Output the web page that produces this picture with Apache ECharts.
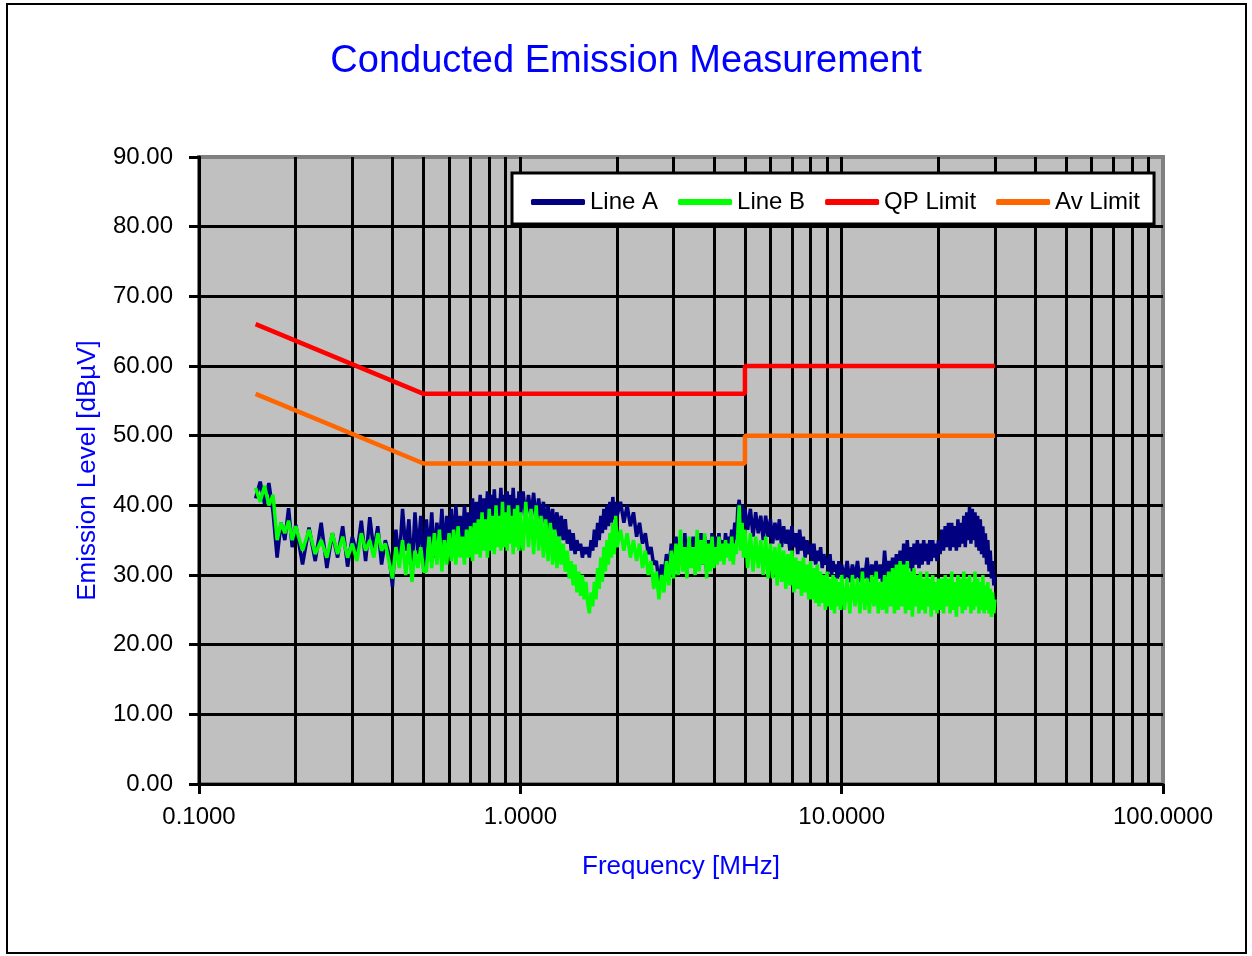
<!DOCTYPE html>
<html>
<head>
<meta charset="utf-8">
<script src="https://cdn.jsdelivr.net/npm/echarts@6/dist/echarts.min.js"></script>
<style>
html,body{margin:0;padding:0;background:#fff;}
#chart{width:1252px;height:956px;}
</style>
</head>
<body>
<div id="chart"></div>
<script>
// ---- data ----
const freqMHz = [
0.150,0.155,0.160,0.165,0.170,0.175,0.180,0.185,0.190,0.195,0.200,
0.21,0.22,0.23,0.24,0.25,0.26,0.27,0.28,0.29,0.30,0.31,0.32,0.33,0.34,0.35,0.36,0.37,0.38,0.39,0.40,0.41,0.42,0.43,0.44,0.45,0.46,0.47,0.48,0.49,0.50,
0.51,0.52,0.53,0.54,0.55,0.56,0.57,0.58,0.59,0.60,0.61,0.62,0.63,0.64,0.65,0.66,0.67,0.68,0.69,0.70,
0.71,0.72,0.73,0.74,0.75,0.76,0.77,0.78,0.79,0.80,0.81,0.82,0.83,0.84,0.85,0.86,0.87,0.88,0.89,0.90,
0.91,0.92,0.93,0.94,0.95,0.96,0.97,0.98,0.99,1.00,
1.02,1.04,1.06,1.08,1.10,1.12,1.14,1.16,1.18,1.20,1.22,1.24,1.26,1.28,1.30,1.32,1.34,1.36,1.38,1.40,
1.42,1.44,1.46,1.48,1.50,1.52,1.54,1.56,1.58,1.60,1.62,1.64,1.66,1.68,1.70,1.72,1.74,1.76,1.78,1.80,
1.82,1.84,1.86,1.88,1.90,1.92,1.94,1.96,1.98,2.00,
2.05,2.10,2.15,2.20,2.25,2.30,2.35,2.40,2.45,2.50,2.55,2.60,2.65,2.70,2.75,2.80,2.85,2.90,2.95,3.00,
3.05,3.10,3.15,3.20,3.25,3.30,3.35,3.40,3.45,3.50,3.55,3.60,3.65,3.70,3.75,3.80,3.85,3.90,3.95,4.00,
4.05,4.10,4.15,4.20,4.25,4.30,4.35,4.40,4.45,4.50,4.55,4.60,4.65,4.70,4.75,4.80,4.85,4.90,4.95,5.00,
5.1,5.2,5.3,5.4,5.5,5.6,5.7,5.8,5.9,6.0,6.1,6.2,6.3,6.4,6.5,6.6,6.7,6.8,6.9,7.0,
7.1,7.2,7.3,7.4,7.5,7.6,7.7,7.8,7.9,8.0,8.1,8.2,8.3,8.4,8.5,8.6,8.7,8.8,8.9,9.0,
9.1,9.2,9.3,9.4,9.5,9.6,9.7,9.8,9.9,10.0,
10.2,10.4,10.6,10.8,11.0,11.2,11.4,11.6,11.8,12.0,12.2,12.4,12.6,12.8,13.0,13.2,13.4,13.6,13.8,14.0,
14.2,14.4,14.6,14.8,15.0,15.2,15.4,15.6,15.8,16.0,16.2,16.4,16.6,16.8,17.0,17.2,17.4,17.6,17.8,18.0,
18.2,18.4,18.6,18.8,19.0,19.2,19.4,19.6,19.8,20.0,
20.25,20.50,20.75,21.00,21.25,21.50,21.75,22.00,22.25,22.50,22.75,23.00,23.25,23.50,23.75,24.00,24.25,24.50,24.75,25.00,
25.25,25.50,25.75,26.00,26.25,26.50,26.75,27.00,27.25,27.50,27.75,28.00,28.25,28.50,28.75,29.00,29.25,29.50,29.75,30.00
];
const lineA = [
41.0,43.4,40.2,43.2,39.0,32.5,37.5,35.0,39.6,34.0,37.2,
31.5,36.8,32.0,37.5,31.0,36.0,32.5,37.0,31.2,35.5,33.0,37.8,32.0,38.3,33.5,37.0,31.5,35.0,33.0,28.3,36.5,32.0,39.5,33.5,38.0,30.5,39.0,33.0,38.5,31.0,
38.0,33.0,39.0,32.5,37.5,34.0,39.5,33.0,38.5,34.5,39.5,33.5,40.0,35.0,38.5,34.0,40.0,35.5,39.0,36.0,
41.0,35.5,40.5,36.5,41.5,36.0,41.0,37.0,42.0,37.5,41.5,38.0,42.3,37.5,41.0,38.0,42.5,37.5,41.5,38.5,
42.0,37.5,41.5,38.0,42.5,38.5,41.0,37.5,42.0,38.5,
42.0,38.0,41.5,38.5,41.8,37.5,41.0,38.0,40.5,37.0,40.0,36.5,39.5,36.0,39.0,35.5,38.5,35.0,38.0,34.5,
36.5,33.5,36.0,33.0,35.0,33.5,34.5,32.5,34.0,33.0,34.0,32.5,35.0,33.5,36.5,34.0,37.5,35.0,38.5,36.0,
39.5,36.5,40.0,37.0,40.5,37.5,41.2,38.0,40.5,38.5,
40.5,37.5,40.0,37.0,39.0,35.5,37.5,34.5,36.0,33.0,34.0,31.5,32.0,29.0,31.5,30.0,33.0,30.5,34.5,31.0,
35.5,31.5,34.5,32.0,36.0,31.0,35.0,32.5,35.5,31.0,35.0,32.0,36.0,31.5,35.5,30.5,35.0,32.0,36.0,31.5,
35.5,32.5,36.0,33.0,35.0,32.5,36.0,33.5,35.5,34.0,36.5,34.5,37.5,35.0,39.5,40.8,37.5,40.0,37.0,39.5,
36.5,39.5,35.5,39.0,36.0,38.5,35.0,38.5,35.5,38.0,34.5,37.5,35.0,38.0,34.0,37.0,34.5,36.5,33.5,37.0,
34.0,36.0,33.0,36.5,33.5,35.5,32.5,35.0,33.0,34.5,32.0,34.5,31.5,33.5,32.0,34.0,31.0,33.0,31.5,32.5,
30.5,33.0,30.0,32.0,30.5,31.5,29.5,32.0,30.0,31.5,
29.5,32.0,29.0,31.5,29.5,32.0,29.0,31.0,29.5,32.5,29.0,31.5,30.0,32.0,29.5,31.5,29.0,33.5,30.0,32.0,
29.5,32.5,30.0,33.0,30.5,33.5,30.0,34.5,31.0,35.0,31.0,34.0,30.5,34.5,31.5,35.0,31.0,34.5,31.5,35.0,
32.0,34.5,31.5,35.0,32.0,35.0,32.5,34.5,32.0,35.0,
33.0,36.5,33.5,37.0,34.0,37.5,33.5,37.5,34.0,37.0,33.5,38.0,34.0,37.5,34.5,38.5,34.0,39.0,35.0,39.8,
34.5,39.5,35.0,39.0,34.0,38.5,33.5,38.0,33.0,37.0,32.5,36.0,31.5,35.0,30.5,33.5,29.5,32.0,28.5,30.0
];
const lineB = [
42.5,40.5,42.8,40.0,41.5,35.0,37.5,36.0,37.8,35.0,37.0,
33.5,36.5,33.0,35.0,32.5,36.0,33.0,35.5,32.5,34.5,32.0,36.0,33.5,35.0,32.5,36.0,33.5,34.5,32.0,29.5,34.0,31.0,35.0,30.0,34.5,29.0,33.5,31.0,34.0,30.5,
30.5,35.5,31.0,36.0,31.5,36.5,30.5,35.0,31.5,36.0,32.0,36.5,31.5,37.0,32.5,35.5,31.5,36.5,32.5,37.0,
32.0,37.5,33.0,38.0,32.5,39.0,33.5,38.0,32.5,39.5,33.5,38.5,33.0,40.0,34.0,38.5,33.5,40.5,34.0,39.0,
33.5,40.0,34.5,38.5,33.0,39.5,34.0,40.0,33.5,39.0,
33.5,40.5,34.0,39.5,33.0,40.0,33.5,38.5,32.5,38.0,32.0,37.5,31.5,36.5,31.0,35.5,31.5,34.5,30.5,33.5,
29.5,32.0,28.5,31.5,27.5,30.5,27.0,30.0,26.5,29.0,26.0,24.5,27.5,25.5,29.0,26.5,31.0,28.0,32.5,29.0,
34.0,30.5,35.0,31.5,36.0,32.5,37.5,33.0,38.5,34.0,
36.5,33.5,36.0,32.5,35.0,32.0,34.5,31.0,33.5,30.0,32.0,28.0,30.5,26.5,30.0,27.5,32.0,28.5,33.5,29.5,
34.5,30.0,36.5,30.5,34.0,29.5,35.5,31.0,34.0,30.0,36.5,30.5,35.0,31.5,36.0,29.5,34.5,30.5,35.5,31.0,
34.0,31.5,35.5,32.0,34.5,31.5,35.0,32.5,34.5,32.0,35.5,31.5,34.5,33.0,36.0,40.0,33.5,37.5,32.5,36.5,
31.0,36.0,30.5,35.5,31.0,35.0,30.0,35.5,29.5,34.5,29.5,34.0,28.5,34.5,29.0,33.5,28.0,33.0,28.5,33.5,
27.5,32.5,28.0,32.0,27.0,32.5,27.5,31.5,26.5,32.0,26.5,31.0,26.0,31.5,25.5,30.5,26.0,30.0,25.0,30.5,
25.5,29.5,25.0,30.0,24.5,29.5,25.5,29.0,25.0,30.0,
25.0,29.5,24.5,30.0,25.5,29.5,24.5,30.5,25.0,29.5,24.5,30.0,25.5,30.5,24.5,29.0,25.0,30.0,24.5,30.5,
25.5,31.0,24.5,31.5,25.0,32.0,25.5,31.5,24.5,32.0,25.0,30.5,24.0,31.0,25.5,30.0,24.5,30.5,25.0,29.5,
24.5,30.5,25.5,29.5,24.0,30.0,25.0,29.0,24.5,29.5,
25.0,29.5,24.5,30.0,25.5,29.5,24.5,30.5,25.0,29.0,24.0,30.0,25.5,29.5,24.5,30.5,25.0,29.5,25.5,30.0,
24.5,29.0,25.0,30.5,25.5,29.5,24.5,29.0,25.0,30.0,24.5,28.5,25.0,29.0,24.5,28.0,24.0,27.5,24.5,26.5
];
const limitFreqMHz = [0.15, 0.5, 5, 5, 30];
const qpLimit = [66, 56, 56, 60, 60];
const avLimit = [56, 46, 46, 50, 50];
const minorGridMHz = [0.2,0.3,0.4,0.5,0.6,0.7,0.8,0.9,2,3,4,5,6,7,8,9,20,30,40,50,60,70,80,90];
const seriesNames = ['Line A', 'Line B', 'QP Limit', 'Av Limit'];
const titleText = 'Conducted Emission Measurement';
const xAxisName = 'Frequency [MHz]';
const yAxisName = 'Emission Level [dBµV]';

const pair = (xs, ys) => xs.map((x, i) => [x, ys[i]]);
const FONT = '"Liberation Sans", Arial, sans-serif';

const chart = echarts.init(document.getElementById('chart'), null, {renderer: 'canvas'});
chart.setOption({
  animation: false,
  backgroundColor: '#fff',
  textStyle: {fontFamily: FONT},
  title: {
    text: titleText, left: 'center', top: 38,
    textStyle: {color: '#0000FF', fontSize: 38, fontWeight: 'normal', fontFamily: FONT}
  },
  graphic: [{
    type: 'rect', silent: true, z: 100,
    shape: {x: 7, y: 4, width: 1239, height: 949},
    style: {fill: 'none', stroke: '#000', lineWidth: 2}
  }],
  legend: {
    data: seriesNames, left: 512, top: 173,
    padding: [17, 14, 10, 19], itemGap: 20, itemWidth: 54, itemHeight: 6,
    icon: 'roundRect',
    backgroundColor: '#fff', borderColor: '#000', borderWidth: 3,
    textStyle: {fontSize: 24, color: '#000', fontFamily: FONT}
  },
  grid: {
    left: 199, top: 157, width: 964, height: 627,
    show: true, backgroundColor: '#C0C0C0', borderColor: '#808080', borderWidth: 4,
    outerBoundsMode: 'none', containLabel: false
  },
  xAxis: {
    type: 'log', logBase: 10, min: 0.1, max: 100,
    name: xAxisName, nameLocation: 'middle', nameGap: 70,
    nameTextStyle: {color: '#0000FF', fontSize: 26, fontFamily: FONT},
    axisLine: {show: true, onZero: false, lineStyle: {color: '#000', width: 3}},
    axisTick: {show: true, length: 10, lineStyle: {color: '#000', width: 3}},
    axisLabel: {color: '#000', fontSize: 24, margin: 21, fontFamily: FONT,
      formatter: v => Number(v).toFixed(4)},
    splitLine: {show: true, showMaxLine: false, lineStyle: {color: '#000', width: 3}},
    minorTick: {show: false}
  },
  yAxis: {
    type: 'value', min: 0, max: 90, interval: 10,
    name: yAxisName, nameLocation: 'middle', nameGap: 98, nameRotate: 90,
    nameTextStyle: {color: '#0000FF', fontSize: 26, fontFamily: FONT},
    axisLine: {show: true, onZero: false, lineStyle: {color: '#000', width: 3}},
    axisTick: {show: true, length: 10, lineStyle: {color: '#000', width: 3}},
    axisLabel: {color: '#000', fontSize: 24, margin: 26, fontFamily: FONT,
      formatter: v => Number(v).toFixed(2)},
    splitLine: {show: true, showMaxLine: false, lineStyle: {color: '#000', width: 3}}
  },
  series: [
    {
      name: '_grid', type: 'line', data: [], silent: true, z: 1,
      markLine: {
        silent: true, z: 1, symbol: ['none', 'none'], label: {show: false},
        lineStyle: {color: '#000', width: 3, type: 'solid'},
        emphasis: {disabled: true},
        data: minorGridMHz.map(f => ({xAxis: f}))
      }
    },
    {name: seriesNames[0], type: 'line', data: pair(freqMHz, lineA), showSymbol: false, z: 3,
     lineStyle: {color: '#000080', width: 3.5}, itemStyle: {color: '#000080'}},
    {name: seriesNames[1], type: 'line', data: pair(freqMHz, lineB), showSymbol: false, z: 4,
     lineStyle: {color: '#00FF00', width: 3.5}, itemStyle: {color: '#00FF00'}},
    {name: seriesNames[2], type: 'line', data: pair(limitFreqMHz, qpLimit), showSymbol: false, z: 5,
     lineStyle: {color: '#FF0000', width: 4.5}, itemStyle: {color: '#FF0000'}},
    {name: seriesNames[3], type: 'line', data: pair(limitFreqMHz, avLimit), showSymbol: false, z: 5,
     lineStyle: {color: '#FF6600', width: 4.5}, itemStyle: {color: '#FF6600'}}
  ]
});
</script>
</body>
</html>
